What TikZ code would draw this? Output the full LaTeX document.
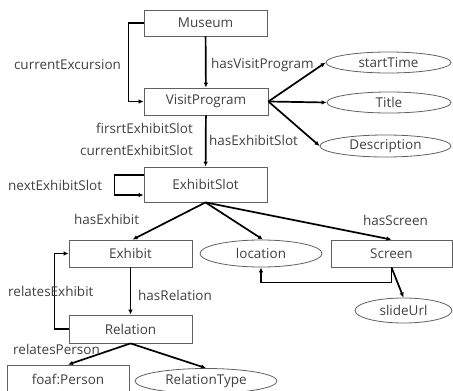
\documentclass[tikz,border=0pt]{standalone}
\usepackage{fontspec}
\setmainfont{Open Sans}
\usetikzlibrary{arrows.meta,calc,shapes.geometric}
\definecolor{txt}{HTML}{404040}
\definecolor{bord}{HTML}{606060}
\begin{document}
\begin{tikzpicture}[x=1pt,y=-1pt,
  font=\fontsize{13.5}{15}\selectfont, text=txt,
  cls/.style={draw=bord, line width=0.8pt, rectangle, inner sep=0pt, minimum width=#1},
  lit/.style={draw=bord, line width=0.8pt, ellipse, inner sep=0pt, minimum width=#1},
  rel/.style={draw=black, line width=1.7pt, -{Latex[length=5pt,width=4.5pt]}},
  lab/.style={inner sep=0pt}
]
\useasboundingbox (0,0) rectangle (453,391);
% classes
\node[cls=123, minimum height=26] (Museum) at (205.5,23) {Museum};
\node[cls=124, minimum height=27] (VisitProgram) at (206,101.5) {VisitProgram};
\node[cls=123, minimum height=35] (ExhibitSlot) at (205.5,184.5) {ExhibitSlot};
\node[cls=123, minimum height=27] (Exhibit) at (130.5,253.5) {Exhibit};
\node[cls=123, minimum height=28] (Relation) at (130.5,329) {Relation};
\node[cls=122, minimum height=28] (Person) at (68,379) {foaf:Person};
\node[cls=121, minimum height=27] (Screen) at (391.5,253.5) {Screen};
% literals
\node[lit=125, minimum height=21] (startTime) at (388.5,62.5) {startTime};
\node[lit=124, minimum height=21] (Title) at (389,102.5) {Title};
\node[lit=131, minimum height=22] (Description) at (385.5,146) {Description};
\node[lit=122, minimum height=27] (location) at (261,253.5) {location};
\node[lit=97, minimum height=25] (slideUrl) at (403.5,310.5) {slideUrl};
\node[lit=142, minimum height=25] (RelationType) at (206,381) {RelationType};
% connectors
\draw[rel] (Museum) -- (VisitProgram);
\draw[rel] (Museum.west) -- ++(-15,0) |- (VisitProgram.west);
\draw[rel] (VisitProgram.east) -- (startTime.west);
\draw[rel] (VisitProgram.east) -- (Title.west);
\draw[rel] (VisitProgram.east) -- (Description.west);
\draw[rel] (VisitProgram) -- (ExhibitSlot);
\coordinate (loopA) at ($(ExhibitSlot.west)+(0,-9.5)$);
\coordinate (loopB) at ($(ExhibitSlot.west)+(0,10.5)$);
\draw[rel] (loopA) -- ++(-29,0) |- (loopB);
\draw[rel] (ExhibitSlot.south) -- ($(Exhibit.north)+(2,0)$);
\draw[rel] (ExhibitSlot.south) -- ($(location.north)+(2,0)$);
\draw[rel] (ExhibitSlot.south) -- (Screen.north);
\draw[rel] (Screen.south) -- ++(0,15) -| (location.south);
\draw[rel] (Screen.south) -- (slideUrl.north);
\draw[rel] (Exhibit) -- (Relation);
\draw[rel] (Relation.west) -- ++(-14,0) |- (Exhibit.west);
\draw[rel] (Relation.south) -- (Person.north);
\draw[rel] (Relation.south) -- (RelationType.north);
% labels
\node[lab] (lCE) at (67.5,65) {currentExcursion};
\node[lab, anchor=west] (lHVP) at (211,65) {hasVisitProgram};
\node[lab, anchor=east] (lFES) at (193,128) {firsrtExhibitSlot};
\node[lab, anchor=east] (lCES) at (193,150) {currentExhibitSlot};
\node[lab, anchor=west] (lHES) at (209,140) {hasExhibitSlot};
\node[lab, anchor=west] (lNES) at (8,185) {nextExhibitSlot};
\node[lab, anchor=west] (lHE) at (74,219) {hasExhibit};
\node[lab] (lHS) at (395.5,220) {hasScreen};
\node[lab, anchor=west] (lHR) at (138,295) {hasRelation};
\node[lab, anchor=west] (lRE) at (8,291) {relatesExhibit};
\node[lab, anchor=west] (lRP) at (13,349) {relatesPerson};
\end{tikzpicture}
\end{document}
